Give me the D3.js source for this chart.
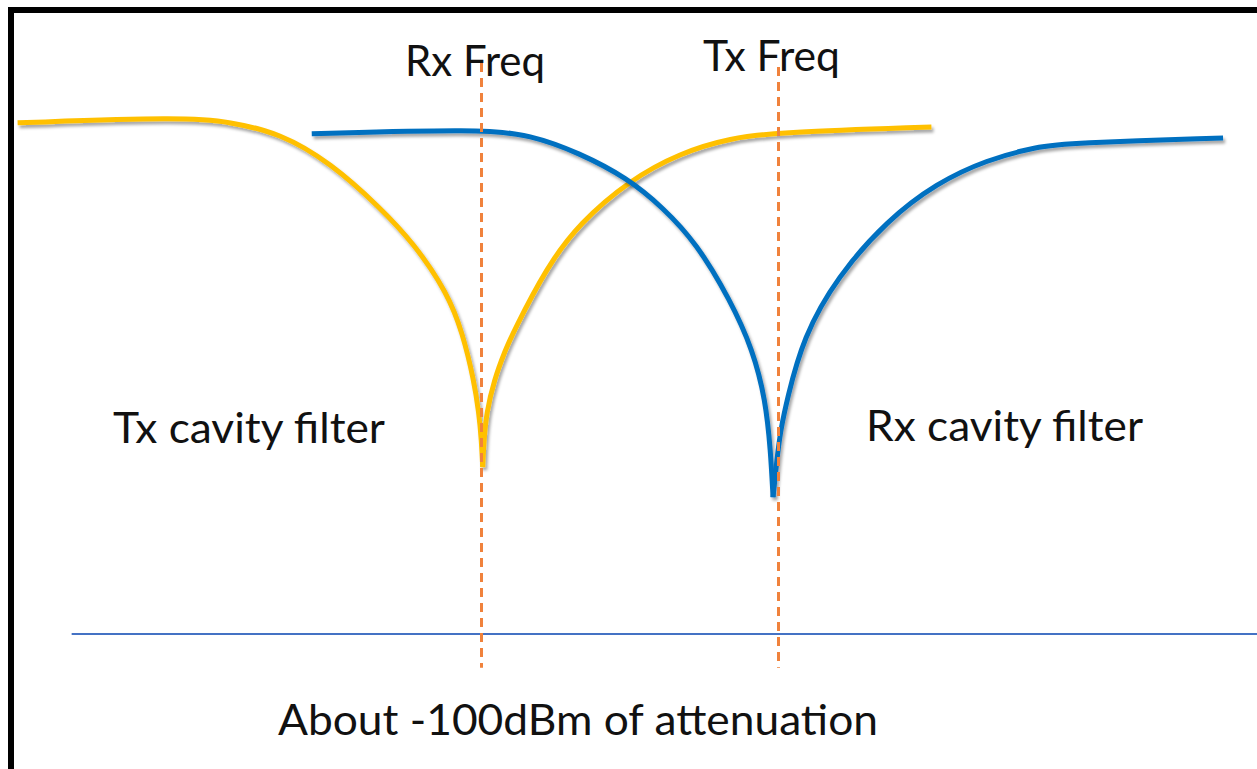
<!DOCTYPE html>
<html>
<head>
<meta charset="utf-8">
<script src="https://cdn.jsdelivr.net/npm/d3@7/dist/d3.min.js"></script>
<style>
  html, body { margin: 0; padding: 0; background: #fff; }
  svg { display: block; }
  text { font-family: Lato, "Open Sans", sans-serif; fill: #111; }
</style>
</head>
<body>
<script>
// ---- data (frequency in arbitrary units, attenuation in dB) ----
const txFreq = [1.4, 14.6, 18.3, 22.3, 26.3, 30.2, 32.9, 35.6, 36.8, 37.7, 38.1, 38.3, 38.4, 38.5, 38.7, 39.3, 40.2, 40.8, 43.5, 46.1, 50.1, 54.1, 58.1, 62.1, 74.1];
const txAtten = [-1.7, -0.6, -1.5, -3.7, -9.4, -17.9, -24.8, -34.4, -42.1, -51.2, -57.5, -62.7, -67.9, -62.7, -57.5, -51.2, -45.4, -42.1, -29.4, -21.0, -12.7, -7.5, -4.6, -3.5, -2.5];
const rxFreq = [24.8, 38.2, 42.2, 46.1, 49.9, 52.7, 55.4, 58.1, 59.9, 60.9, 61.3, 61.5, 61.8, 62.1, 62.6, 63.9, 66.6, 70.6, 74.5, 78.5, 82.5, 85.1, 97.3];
const rxAtten = [-3.8, -2.9, -4.0, -7.5, -12.3, -17.9, -24.8, -35.8, -45.4, -55.0, -64.6, -73.7, -66.5, -60.8, -55.0, -42.9, -31.3, -20.4, -13.3, -8.8, -6.3, -5.6, -4.6];
const markerNames = ["Rx Freq", "Tx Freq"];
const markerFreqs = [38.3, 61.9];
const markerSpan = [9.8, -106.5];
const floorLevel = -100;
const floorSpan = [5.7, 100];
const seriesNames = ["Tx cavity filter", "Rx cavity filter"];
const captionText = "About -100dBm of attenuation";

// ---- layout ----
const W = 1257, H = 769;
const svg = d3.select("body").append("svg").attr("width", W).attr("height", H);

const x = d3.scaleLinear().domain([0, 100]).range([0, 1257]);
const y = d3.scaleLinear().domain([0, -100]).range([114, 634]);

const defs = svg.append("defs");
const f = defs.append("filter").attr("id", "shadow")
  .attr("x", "-10%").attr("y", "-10%").attr("width", "130%").attr("height", "130%");
f.append("feDropShadow").attr("dx", 2).attr("dy", 3).attr("stdDeviation", 1.6)
  .attr("flood-color", "#000").attr("flood-opacity", 0.35);

// frame (black left & top bars)
svg.append("rect").attr("x", 8).attr("y", 7).attr("width", 6).attr("height", H - 7).attr("fill", "#000");
svg.append("rect").attr("x", 8).attr("y", 7).attr("width", W - 8).attr("height", 6).attr("fill", "#000");

// floor line (-100 dB)
svg.append("line")
  .attr("x1", x(floorSpan[0])).attr("x2", x(floorSpan[1]))
  .attr("y1", y(floorLevel)).attr("y2", y(floorLevel))
  .attr("stroke", "#4472C4").attr("stroke-width", 2);

const line = d3.line().x(d => x(d[0])).y(d => y(d[1])).curve(d3.curveBasis);

// split each response at its notch so the cusp stays sharp
function branches(fr, at) {
  const pts = fr.map((v, i) => [v, at[i]]);
  const k = d3.minIndex(at);
  return [pts.slice(0, k + 1), pts.slice(k)];
}

const series = [
  { br: branches(txFreq, txAtten), color: "#FFC000" },
  { br: branches(rxFreq, rxAtten), color: "#0070C0" }
];

series.forEach(s => {
  const g = svg.append("g").attr("filter", "url(#shadow)");
  g.selectAll("path").data(s.br).enter().append("path")
    .attr("d", line)
    .attr("fill", "none").attr("stroke", s.color).attr("stroke-width", 5)
    .attr("stroke-linecap", "butt");
});

// vertical dashed markers
svg.selectAll(".marker").data(markerFreqs).enter().append("line")
  .attr("class", "marker")
  .attr("x1", d => Math.round(x(d)) + 0.5).attr("x2", d => Math.round(x(d)) + 0.5)
  .attr("y1", (d, i) => y(markerSpan[0]) + i * 4).attr("y2", y(markerSpan[1]))
  .attr("stroke", "#F0823C").attr("stroke-width", 3).attr("stroke-dasharray", "9,6");

// text labels
const labels = [
  { t: markerNames[0], x: 405, y: 76, w: 140 },
  { t: markerNames[1], x: 703, y: 71, w: 137 },
  { t: seriesNames[0], x: 113, y: 443, w: 272 },
  { t: seriesNames[1], x: 866, y: 441, w: 277 },
  { t: captionText, x: 278, y: 735, w: 600 }
];
svg.selectAll(".lbl").data(labels).enter().append("text")
  .attr("class", "lbl")
  .attr("x", d => d.x).attr("y", d => d.y)
  .attr("font-size", 43)
  .attr("textLength", d => d.w).attr("lengthAdjust", "spacingAndGlyphs")
  .text(d => d.t);
</script>
</body>
</html>
